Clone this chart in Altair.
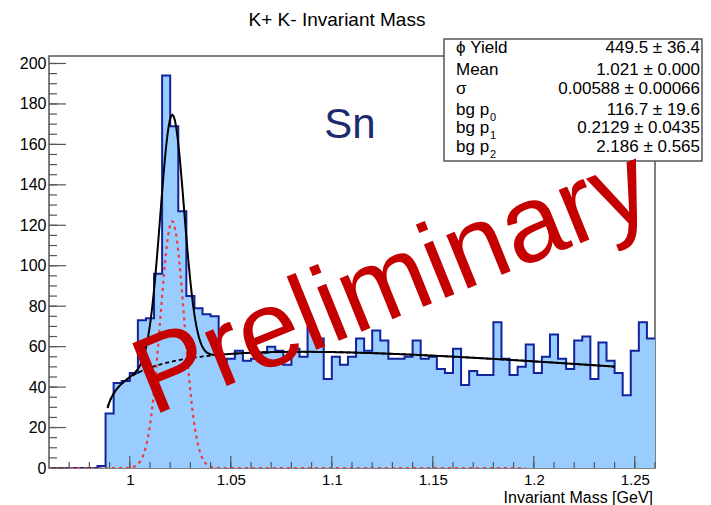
import altair as alt
import numpy as np
import pandas as pd

# ---------------- data ----------------
counts = [0, 0, 0, 0, 0, 0, 1, 27, 42, 43,
          47, 73, 74, 96, 194, 169, 127, 85, 79, 76,
          75, 52, 54, 58, 53, 54, 57, 60, 58, 51,
          59, 55, 70, 64, 44, 55, 51, 55, 64, 58,
          68, 63, 54, 54, 55, 63, 54, 55, 49, 47,
          59, 41, 48, 46, 46, 72, 54, 46, 50, 61,
          47, 55, 66, 54, 49, 63, 65, 44, 62, 53,
          47, 36, 58, 72, 64]
bin_start = 0.96
bin_width = 0.004

# fit parameters (from the stats box)
phi_yield, phi_mean, phi_sigma = 449.5, 1.021, 0.00588
bg_p0, bg_p1, bg_p2 = 116.7, 0.2129, 2.186
kk_threshold = 2 * 0.493677
fit_range = [0.989, 1.24]
gaus_range = [0.96, 1.196]

stat_labels = ["ϕ Yield", "Mean", "σ", "bg p", "bg p", "bg p"]
stat_subs = ["", "", "", "0", "1", "2"]
stat_values = ["449.5 ± 36.4", "1.021 ± 0.000", "0.00588 ± 0.00066",
               "116.7 ± 19.6", "0.2129 ± 0.0435", "2.186 ± 0.565"]

x_major = [1.0, 1.05, 1.1, 1.15, 1.2, 1.25]
x_minor = [0.97, 0.98, 0.99, 1.0, 1.01, 1.02, 1.03, 1.04, 1.05, 1.06, 1.07, 1.08,
           1.09, 1.1, 1.11, 1.12, 1.13, 1.14, 1.15, 1.16, 1.17, 1.18, 1.19, 1.2,
           1.21, 1.22, 1.23, 1.24, 1.25, 1.26]
y_major = [0, 20, 40, 60, 80, 100, 120, 140, 160, 180, 200]
y_minor = list(range(5, 201, 5))

x_domain = [0.96, 1.26]
y_domain = [0, 203.7]

# ---------------- derived tables ----------------
n = len(counts)
lo = [bin_start + i * bin_width for i in range(n)]
hi = [v + bin_width for v in lo]
outline = pd.DataFrame({"x": lo + [hi[-1]], "c": counts + [counts[-1]]})


def gaus(x):
    amp = phi_yield * bin_width / (np.sqrt(2 * np.pi) * phi_sigma)
    return amp * np.exp(-0.5 * ((x - phi_mean) / phi_sigma) ** 2)


def bg(x):
    d = np.clip(x - kk_threshold, 1e-9, None)
    return bg_p0 * d ** bg_p1 * np.exp(-bg_p2 * d)


xs_fit = np.linspace(fit_range[0], fit_range[1], 400)
xs_g = np.linspace(gaus_range[0], gaus_range[1], 400)
fit_df = pd.DataFrame({"x": xs_fit, "tot": gaus(xs_fit) + bg(xs_fit), "bg": bg(xs_fit)})
g_df = pd.DataFrame({"x": xs_g, "g": gaus(xs_g)})

W, H = 606, 412
FONT = "Liberation Sans"
FRAME = "#555555"

xscale = alt.Scale(domain=x_domain, nice=False, zero=False)
yscale = alt.Scale(domain=y_domain, nice=False, zero=True)
xaxis = alt.Axis(values=x_major, format="~g", title=None,
                 labelFont=FONT, labelFontSize=15, labelColor="black",
                 ticks=False, domain=False, grid=False, labelPadding=4,
                 labelFlush=False)
yaxis = alt.Axis(values=y_major, title=None, labelFont=FONT, labelFontSize=16,
                 labelColor="black", ticks=False, domain=False, grid=False,
                 labelPadding=3)


def X(f, **kw):
    return alt.X(f, type="quantitative", scale=xscale, axis=xaxis, **kw)


def Y(f, **kw):
    return alt.Y(f, type="quantitative", scale=yscale, axis=yaxis, **kw)


fill = alt.Chart(outline).mark_area(interpolate="step-after", color="#99ccff",
                                    opacity=1, clip=True).encode(
    x=X("x"), y=Y("c"), y2=alt.datum(0))

edge = alt.Chart(outline).mark_line(interpolate="step-after", color="#13239c",
                                    strokeWidth=2, clip=True).encode(
    x=X("x"), y=Y("c"))

gline = alt.Chart(g_df).mark_line(color="#f23a3a", strokeWidth=2.2,
                                  strokeDash=[3, 4], clip=True).encode(
    x=X("x"), y=Y("g"))

bgline = alt.Chart(fit_df).mark_line(color="black", strokeWidth=1.8,
                                     strokeDash=[4, 3], clip=True).encode(
    x=X("x"), y=Y("bg"))

totline = alt.Chart(fit_df).mark_line(color="black", strokeWidth=2, clip=True).encode(
    x=X("x"), y=Y("tot"))

tick_col = FRAME
yt_major = alt.Chart(pd.DataFrame({"v": y_major})).mark_rule(color=tick_col, strokeWidth=1.2).encode(
    y=Y("v"), x=alt.value(0), x2=alt.value(17))
yt_minor = alt.Chart(pd.DataFrame({"v": y_minor})).mark_rule(color=tick_col, strokeWidth=1.2).encode(
    y=Y("v"), x=alt.value(0), x2=alt.value(8))
xt_major = alt.Chart(pd.DataFrame({"v": x_major})).mark_rule(color=tick_col, strokeWidth=1.2).encode(
    x=X("v"), y=alt.value(H), y2=alt.value(H - 12))
xt_minor = alt.Chart(pd.DataFrame({"v": x_minor})).mark_rule(color=tick_col, strokeWidth=1.2).encode(
    x=X("v"), y=alt.value(H), y2=alt.value(H - 6))

one = pd.DataFrame({"k": [0]})

title = alt.Chart(one).mark_text(text="K+ K- Invariant Mass", font=FONT, fontSize=19,
                                 color="black", align="center", baseline="middle").encode(
    x=alt.value(288), y=alt.value(-36))

xtitle = alt.Chart(one).mark_text(text="Invariant Mass [GeV]", font=FONT, fontSize=16,
                                  color="black", align="right", baseline="middle").encode(
    x=alt.value(604), y=alt.value(442))

sn = alt.Chart(one).mark_text(text="Sn", font=FONT, fontSize=42, color="#1c2a6e",
                              align="center", baseline="middle").encode(
    x=alt.value(301), y=alt.value(69))

box = alt.Chart(one).mark_rect(fill="white", stroke=FRAME, strokeWidth=1.5).encode(
    x=alt.value(395), x2=alt.value(653), y=alt.value(-17), y2=alt.value(105))

row_y = [-7.7, 14, 33.3, 53.5, 72.3, 91]
stat_layers = []
for i in range(len(stat_labels)):
    stat_layers.append(alt.Chart(one).mark_text(
        text=stat_labels[i], font=FONT, fontSize=17, color="black",
        align="left", baseline="middle").encode(x=alt.value(407), y=alt.value(row_y[i])))
    stat_layers.append(alt.Chart(one).mark_text(
        text=stat_values[i], font=FONT, fontSize=17, color="black",
        align="right", baseline="middle").encode(x=alt.value(651), y=alt.value(row_y[i])))
    if stat_subs[i]:
        stat_layers.append(alt.Chart(one).mark_text(
            text=stat_subs[i], font=FONT, fontSize=11, color="black",
            align="left", baseline="middle").encode(x=alt.value(441), y=alt.value(row_y[i] + 8)))

prelim = alt.Chart(one).mark_text(text="Preliminary", font=FONT, fontSize=109,
                                  color="#c40000", angle=338, align="center",
                                  baseline="alphabetic").encode(
    x=alt.value(356), y=alt.value(258))

chart = alt.layer(
    fill, edge, gline, bgline, totline,
    yt_major, yt_minor, xt_major, xt_minor,
    title, xtitle, sn, box, *stat_layers, prelim
).properties(
    width=W, height=H,
    autosize=alt.AutoSizeParams(type="none"),
    padding={"left": 41, "top": 48, "right": 48, "bottom": 37},
    background="white",
).configure_view(stroke=FRAME, strokeWidth=1.5)

chart.save("out.html", embed_options={"renderer": "svg", "actions": False})
